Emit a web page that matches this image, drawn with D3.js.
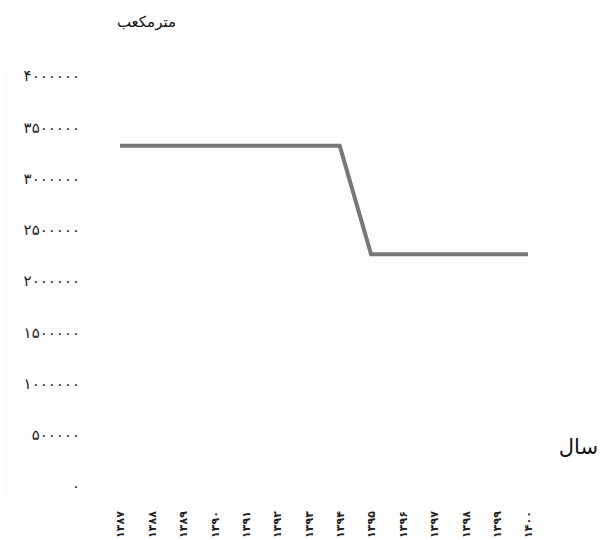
<!DOCTYPE html>
<html>
<head>
<meta charset="utf-8">
<script src="https://cdn.jsdelivr.net/npm/d3@7"></script>
<style>
  body { margin: 0; background: #fff; }
  svg { display: block; }
  .ylab { font-family: "DejaVu Sans", sans-serif; font-size: 15px; fill: #222; }
  .xlab { font-family: "DejaVu Sans", sans-serif; font-size: 11px; font-weight: bold; fill: #222; }
  .title { font-family: "DejaVu Serif", "DejaVu Sans", serif; font-size: 14px; fill: #111; }
</style>
</head>
<body>
<div id="chart"></div>
<script>
// years (solar hijri) and volume in cubic metres
var years = ["۱۳۸۷", "۱۳۸۸", "۱۳۸۹", "۱۳۹۰", "۱۳۹۱", "۱۳۹۲", "۱۳۹۳",
             "۱۳۹۴", "۱۳۹۵", "۱۳۹۶", "۱۳۹۷", "۱۳۹۸", "۱۳۹۹", "۱۴۰۰"];
var volume = [3320000, 3320000, 3320000, 3320000, 3320000, 3320000, 3320000,
              3320000, 2260000, 2260000, 2260000, 2260000, 2260000, 2260000];
var yTicks = [0, 500000, 1000000, 1500000, 2000000, 2500000, 3000000, 3500000, 4000000];

var width = 615, height = 540;

var fa = function (n) {
    return String(n).replace(/[0-9]/g, function (d) {
        return "۰۱۲۳۴۵۶۷۸۹"[+d];
    });
};

var data = years.map(function (y, i) {
    return {year: y, v: volume[i]};
});

var x = d3.scalePoint().domain(years).range([120, 528]);
var y = d3.scaleLinear().domain([0, 4000000]).range([486, 76]);

var svg = d3.select("#chart").append("svg")
    .attr("width", width)
    .attr("height", height);

// faint plot background
svg.append("rect")
    .attr("x", 5).attr("y", 72)
    .attr("width", 528).attr("height", 428)
    .attr("fill", "#fdfdfd");

// y axis (labels only)
var yAxis = svg.append("g")
    .attr("transform", "translate(80,0)")
    .call(d3.axisLeft(y).tickValues(yTicks).tickSize(0).tickPadding(0).tickFormat(fa));
yAxis.select(".domain").remove();
yAxis.selectAll("text").attr("class", "ylab").attr("fill", null);

// x axis (rotated labels)
var xAxis = svg.append("g")
    .attr("transform", "translate(0,512)")
    .call(d3.axisBottom(x).tickSize(0));
xAxis.select(".domain").remove();
xAxis.selectAll("text")
    .attr("class", "xlab")
    .attr("fill", null)
    .attr("transform", "translate(0,26) rotate(-90)")
    .attr("text-anchor", "start")
    .attr("x", 0)
    .attr("y", 0)
    .attr("dy", "0.35em");

// the line
var line = d3.line()
    .x(function (d) { return x(d.year); })
    .y(function (d) { return y(d.v); });

svg.append("path")
    .datum(data)
    .attr("d", line)
    .attr("fill", "none")
    .attr("stroke", "#777")
    .attr("stroke-width", 4);

// axis titles
svg.append("text")
    .attr("class", "title")
    .attr("x", 176).attr("y", 27)
    .attr("text-anchor", "end")
    .style("font-size", "15px")
    .text("مترمکعب");

svg.append("text")
    .attr("class", "title")
    .attr("x", 598).attr("y", 454)
    .attr("text-anchor", "end")
    .style("font-size", "21px")
    .text("سال");
</script>
</body>
</html>
